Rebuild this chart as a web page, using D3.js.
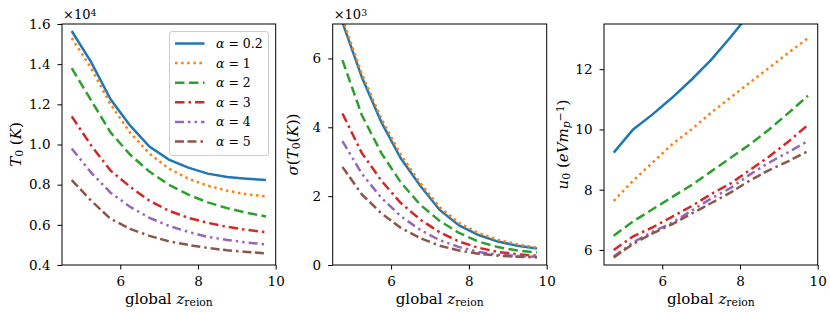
<!DOCTYPE html>
<html>
<head>
<meta charset="utf-8">
<script src="https://cdn.jsdelivr.net/npm/d3@7"></script>
<style>
  body { margin: 0; background: #fff; }
  svg text { font-family: "DejaVu Serif", "Liberation Serif", serif; fill: #000; }
</style>
</head>
<body>
<div id="root"></div>
<script>
// global z_reion sample points
const zreion = [4.75, 5.25, 5.75, 6.25, 6.75, 7.25, 7.75, 8.25, 8.75, 9.25, 9.75]
const alphas = ['0.2', '1', '2', '3', '4', '5']

// T0 in units of 1e4 K
const t0_a02 = [1.565, 1.41, 1.225, 1.095, 0.99, 0.925, 0.885, 0.855, 0.838, 0.83, 0.823]
const t0_a1 = [1.53, 1.38, 1.2, 1.06, 0.955, 0.88, 0.83, 0.795, 0.77, 0.752, 0.742]
const t0_a2 = [1.38, 1.22, 1.06, 0.95, 0.865, 0.8, 0.75, 0.712, 0.683, 0.66, 0.642]
const t0_a3 = [1.14, 0.995, 0.87, 0.79, 0.72, 0.67, 0.635, 0.61, 0.59, 0.575, 0.563]
const t0_a4 = [0.98, 0.86, 0.76, 0.69, 0.635, 0.595, 0.565, 0.54, 0.525, 0.512, 0.503]
const t0_a5 = [0.823, 0.72, 0.63, 0.58, 0.545, 0.518, 0.5, 0.485, 0.473, 0.465, 0.458]

// sigma(T0) in units of 1e3 K
const sig_a02 = [7.05, 5.45, 4.15, 3.1, 2.3, 1.6, 1.15, 0.87, 0.68, 0.56, 0.48]
const sig_a1 = [7.15, 5.55, 4.25, 3.2, 2.38, 1.68, 1.22, 0.93, 0.73, 0.6, 0.5]
const sig_a2 = [5.95, 4.35, 3.25, 2.4, 1.75, 1.28, 0.93, 0.68, 0.52, 0.42, 0.36]
const sig_a3 = [4.4, 3.25, 2.45, 1.8, 1.32, 0.95, 0.68, 0.5, 0.38, 0.31, 0.27]
const sig_a4 = [3.6, 2.65, 1.95, 1.42, 1.02, 0.72, 0.52, 0.38, 0.3, 0.26, 0.24]
const sig_a5 = [2.85, 2.05, 1.5, 1.08, 0.78, 0.56, 0.42, 0.33, 0.27, 0.24, 0.22]

// u0 in eV / m_p
const u0_a02 = [9.23, 10.0, 10.5, 11.05, 11.65, 12.3, 13.05, 13.85, 14.6, 15.3, 16.0]
const u0_a1 = [7.63, 8.3, 8.9, 9.5, 10.0, 10.55, 11.05, 11.55, 12.05, 12.55, 13.03]
const u0_a2 = [6.47, 6.95, 7.35, 7.75, 8.15, 8.6, 9.05, 9.5, 10.0, 10.55, 11.12]
const u0_a3 = [6.0, 6.45, 6.75, 7.1, 7.45, 7.85, 8.2, 8.65, 9.1, 9.6, 10.15]
const u0_a4 = [5.78, 6.25, 6.6, 6.9, 7.3, 7.7, 8.05, 8.5, 8.9, 9.25, 9.62]
const u0_a5 = [5.75, 6.2, 6.55, 6.85, 7.2, 7.55, 7.9, 8.3, 8.65, 8.95, 9.28]

const colors = ['#1f77b4', '#ff7f0e', '#2ca02c', '#d62728', '#9467bd', '#8c564b']
const dashes = [null, '2.5,3.6', '9.5,4.5', '9.5,4,2.5,4', '9,4,2.5,4,2.5,4', '9,3.5,9,4,2.5,4']

const width = 830
const height = 312
const plotTop = 24
const plotBottom = 265

const panels = [
    { x0: 62, x1: 275.7, ydom: [0.4, 1.6], yticks: [0.4, 0.6, 0.8, 1.0, 1.2, 1.4, 1.6], fmt: d3.format('.1f'),
      series: [t0_a02, t0_a1, t0_a2, t0_a3, t0_a4, t0_a5], offset: '4', lab: 't0', labGap: 41 },
    { x0: 332.7, x1: 546.7, ydom: [0, 7], yticks: [0, 2, 4, 6], fmt: d3.format('d'),
      series: [sig_a02, sig_a1, sig_a2, sig_a3, sig_a4, sig_a5], offset: '3', lab: 'sig', labGap: 35 },
    { x0: 604, x1: 817.7, ydom: [5.5, 13.5], yticks: [6, 8, 10, 12], fmt: d3.format('d'),
      series: [u0_a02, u0_a1, u0_a2, u0_a3, u0_a4, u0_a5], offset: null, lab: 'u0', labGap: 36 }
]

const svg = d3.select('#root').append('svg')
    .attr('width', width).attr('height', height)

const addMath = (text, parts) => {
    // parts: [str, style] with style in {'', 'i', 'sub', 'isub', 'sup'}
    parts.forEach(([s, st]) => {
        const t = text.append('tspan').text(s)
        if (st.includes('i')) t.attr('font-style', 'italic')
        if (st.includes('sub')) t.attr('font-size', '0.72em').attr('baseline-shift', '-22%')
        if (st.includes('sup')) t.attr('font-size', '0.72em').attr('baseline-shift', '38%')
    })
}

panels.forEach((p, pi) => {
    const x = d3.scaleLinear().domain([4.5, 10]).range([p.x0, p.x1])
    const y = d3.scaleLinear().domain(p.ydom).range([plotBottom, plotTop])
    const g = svg.append('g')

    g.append('clipPath').attr('id', 'clip' + pi)
        .append('rect').attr('x', p.x0).attr('y', plotTop)
        .attr('width', p.x1 - p.x0).attr('height', plotBottom - plotTop)

    const line = d3.line().x((d, i) => x(zreion[i])).y(d => y(d))
    const plot = g.append('g').attr('clip-path', 'url(#clip' + pi + ')')
    p.series.forEach((s, i) => {
        plot.append('path').datum(s)
            .attr('d', line)
            .attr('fill', 'none')
            .attr('stroke', colors[i])
            .attr('stroke-width', 2.5)
            .attr('stroke-dasharray', dashes[i])
    })

    const xAxis = g.append('g').attr('transform', `translate(0,${plotBottom})`)
        .call(d3.axisBottom(x).tickValues([6, 8, 10]).tickFormat(d3.format('d'))
            .tickSize(4.5).tickSizeOuter(0).tickPadding(7))
    const yAxis = g.append('g').attr('transform', `translate(${p.x0},0)`)
        .call(d3.axisLeft(y).tickValues(p.yticks).tickFormat(p.fmt)
            .tickSize(4.5).tickSizeOuter(0).tickPadding(7))
    ;[xAxis, yAxis].forEach(a => {
        a.select('.domain').remove()
        a.attr('font-family', null)
        a.selectAll('line').attr('stroke', '#000').attr('stroke-width', 1)
        a.selectAll('text').attr('font-size', 13.5)
    })

    g.append('rect').attr('x', p.x0).attr('y', plotTop)
        .attr('width', p.x1 - p.x0).attr('height', plotBottom - plotTop)
        .attr('fill', 'none').attr('stroke', '#000').attr('stroke-width', 1)

    // x label
    const xl = g.append('text').attr('x', (p.x0 + p.x1) / 2).attr('y', 304)
        .attr('text-anchor', 'middle').attr('font-size', 15)
    addMath(xl, [['global ', ''], ['z', 'i'], ['reion', 'sub']])

    // offset text
    if (p.offset) {
        const ot = g.append('text').attr('x', p.x0 + 1).attr('y', 19).attr('font-size', 13)
        addMath(ot, [['×10', ''], [p.offset, 'sup']])
    }

    // y label
    const lx = p.x0 - p.labGap
    const yl = g.append('text').attr('transform', `translate(${lx},${(plotTop + plotBottom) / 2}) rotate(-90)`)
        .attr('text-anchor', 'middle').attr('font-size', 15)
    if (p.lab === 't0') addMath(yl, [['T', 'i'], ['0', 'sub'], [' (', ''], ['K', 'i'], [')', '']])
    if (p.lab === 'sig') addMath(yl, [['σ', 'i'], ['(', ''], ['T', 'i'], ['0', 'sub'], ['(', ''], ['K', 'i'], ['))', '']])
    if (p.lab === 'u0') addMath(yl, [['u', 'i'], ['0', 'sub'], [' (', ''], ['eVm', 'i'], ['p', 'isub'], ['−1', 'sup'], [')', '']])

    // legend on first panel
    if (pi === 0) {
        const lg = g.append('g')
        lg.append('rect').attr('x', 169.5).attr('y', 31.5).attr('width', 99).attr('height', 124)
            .attr('rx', 2.5).attr('fill', '#fff').attr('fill-opacity', 0.8)
            .attr('stroke', '#cccccc').attr('stroke-width', 1)
        alphas.forEach((a, i) => {
            const ly = 43.5 + i * 19.6
            lg.append('line').attr('x1', 175).attr('x2', 204.5).attr('y1', ly).attr('y2', ly)
                .attr('stroke', colors[i]).attr('stroke-width', 2.5)
                .attr('stroke-dasharray', dashes[i])
            const t = lg.append('text').attr('x', 216).attr('y', ly + 4.5).attr('font-size', 12.5)
            addMath(t, [['α', 'i'], [' = ' + a, '']])
        })
    }
})
</script>
</body>
</html>
